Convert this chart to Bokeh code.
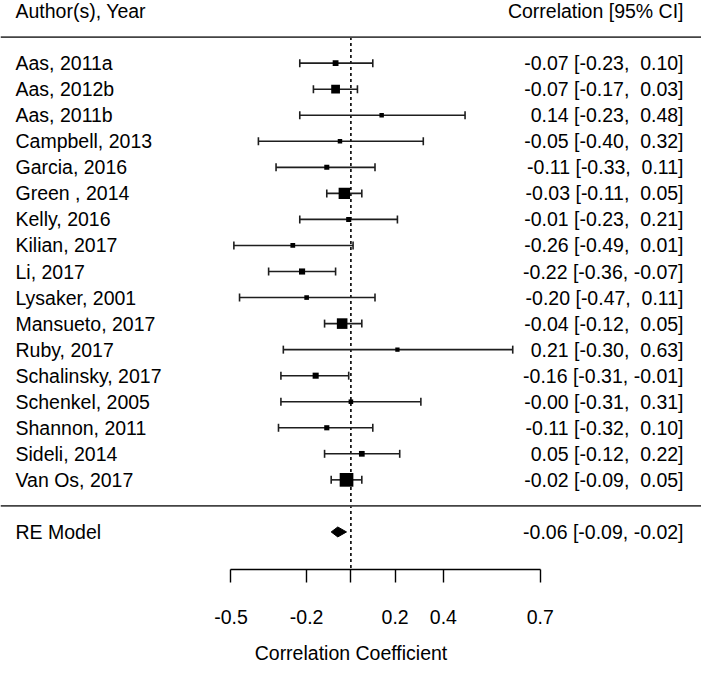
import numpy as np
from bokeh.plotting import figure
from bokeh.models import Span, FixedTicker, CustomJSTickFormatter, Range1d, ColumnDataSource
from bokeh.core.properties import value
from bokeh.embed import file_html
from bokeh.resources import INLINE

# ---------------- data ----------------
studies = ["Aas, 2011a", "Aas, 2012b", "Aas, 2011b", "Campbell, 2013", "Garcia, 2016",
           "Green , 2014", "Kelly, 2016", "Kilian, 2017", "Li, 2017", "Lysaker, 2001",
           "Mansueto, 2017", "Ruby, 2017", "Schalinsky, 2017", "Schenkel, 2005",
           "Shannon, 2011", "Sideli, 2014", "Van Os, 2017"]
estimates = [-0.07, -0.07, 0.14, -0.05, -0.11, -0.03, -0.01, -0.26, -0.22, -0.20,
             -0.04, 0.21, -0.16, -0.0, -0.11, 0.05, -0.02]
ci_lower = [-0.23, -0.17, -0.23, -0.40, -0.33, -0.11, -0.23, -0.49, -0.36, -0.47,
            -0.12, -0.30, -0.31, -0.31, -0.32, -0.12, -0.09]
ci_upper = [0.10, 0.03, 0.48, 0.32, 0.11, 0.05, 0.21, 0.01, -0.07, 0.11,
            0.05, 0.63, -0.01, 0.31, 0.10, 0.22, 0.05]
weights = [4.15, 11.44, 0.81, 0.81, 2.26, 18.07, 2.32, 1.56, 4.93, 1.21,
           15.98, 0.42, 4.81, 1.13, 2.49, 3.93, 23.67]   # % study weight

re_label = "RE Model"
re_estimate = -0.06
re_lower = -0.09
re_upper = -0.02

tick_values = [-0.5, -0.2, 0.0, 0.2, 0.4, 0.7]
tick_labels = ["-0.5", "-0.2", "", "0.2", "0.4", "0.7"]

header_left = "Author(s), Year"
header_right = "Correlation [95% CI]"
x_title = "Correlation Coefficient"

# ---------------- layout ----------------
FONT = "Liberation Sans"
FS = "19.5px"
W, H = 701, 666
FRAME_H = 570
k = len(studies)
rows = list(range(k, 0, -1))
y_bottom = -2.442
y_top = 19.406

z_est = np.arctanh(np.array(estimates))
z_lo = np.arctanh(np.array(ci_lower))
z_hi = np.arctanh(np.array(ci_upper))
w = np.array(weights)
sizes = 4.3 + 9.4 * (w - w.min()) / (w.max() - w.min())

NB = "\u00a0"

def num(v, width=5):
    s = f"{v:.2f}"
    return NB * max(0, width - len(s)) + s

def fmt(e, l, u):
    return f"{num(e)} [{num(l)},{NB}{num(u)}]"

right_text = [fmt(e, l, u) for e, l, u in zip(estimates, ci_lower, ci_upper)]

src = ColumnDataSource(dict(study=studies, row=rows, z=z_est, lo=z_lo, hi=z_hi,
                            size=sizes, rtext=right_text))

xr = Range1d(-1.6051, 1.6061)
yr = Range1d(y_bottom, y_top)

p = figure(width=W, height=H, x_range=xr, y_range=yr, output_backend="svg",
           toolbar_location=None, y_axis_location=None, x_axis_location="below",
           min_border_left=0, min_border_right=0, min_border_top=0,
           min_border_bottom=H - FRAME_H)
p.outline_line_color = None
p.grid.visible = False
p.background_fill_color = "white"
p.border_fill_color = "white"

# horizontal rules
for loc in (k + 1, 0):
    p.add_layout(Span(location=loc, dimension="width", line_color="#444444", line_width=1.8))

# dotted reference line at r = 0
p.segment(x0=[0], y0=[k + 1], x1=[0], y1=[y_bottom], line_color="black",
          line_width=1.6, line_dash="3 3")

# CI lines and caps
CI_COL = "#1e1e1e"
p.segment(x0="lo", y0="row", x1="hi", y1="row", source=src, line_color=CI_COL, line_width=1.6)
p.scatter(x="lo", y="row", source=src, marker="dash", angle=np.pi / 2, size=8,
          line_color=CI_COL, line_width=1.6)
p.scatter(x="hi", y="row", source=src, marker="dash", angle=np.pi / 2, size=8,
          line_color=CI_COL, line_width=1.6)
# weight squares
p.scatter(x="z", y="row", source=src, marker="square", size="size",
          fill_color="black", line_color="black", line_width=0)

# RE diamond
zr, zl, zu = np.arctanh(re_estimate), np.arctanh(re_lower), np.arctanh(re_upper)
hh = 0.19
p.patch(x=[zl, zr, zu, zr], y=[-1, -1 + hh, -1, -1 - hh], fill_color="black", line_color="black",
        line_width=1)

# text columns
common = dict(text_baseline="middle", text_font=value(FONT), text_font_size=FS, text_color="black")
LX, RX = 15, -18
p.text(x=xr.start, y="row", text="study", source=src, x_offset=LX, text_align="left", **common)
p.text(x=xr.end, y="row", text="rtext", source=src, x_offset=RX, text_align="right", **common)
p.text(x=[xr.start], y=[k + 2], text=[header_left], x_offset=LX, text_align="left", **common)
p.text(x=[xr.end], y=[k + 2], text=[header_right], x_offset=RX, text_align="right", **common)
p.text(x=[xr.start], y=[-1], text=[re_label], x_offset=LX, text_align="left", **common)
p.text(x=[xr.end], y=[-1], text=[fmt(re_estimate, re_lower, re_upper)], x_offset=RX,
       text_align="right", **common)

# x axis on the Fisher-z scale, labelled in r
tick_z = [float(np.arctanh(t)) for t in tick_values]
ax = p.xaxis[0]
ax.ticker = FixedTicker(ticks=tick_z, minor_ticks=[])
ax.formatter = CustomJSTickFormatter(args=dict(zs=tick_z, labels=tick_labels), code="""
    for (let i = 0; i < zs.length; i++) {
        if (Math.abs(zs[i] - tick) < 1e-6) return labels[i];
    }
    return "";
""")
ax.bounds = (tick_z[0], tick_z[-1])
ax.axis_line_color = "black"
ax.axis_line_width = 1.4
ax.major_tick_line_color = "black"
ax.major_tick_line_width = 1.4
ax.major_tick_out = 13
ax.major_tick_in = 0
ax.minor_tick_line_color = None
ax.major_label_standoff = 27
ax.major_label_text_font = FONT
ax.major_label_text_font_size = FS
ax.major_label_text_color = "black"
ax.axis_label = x_title
ax.axis_label_standoff = 15
ax.axis_label_text_font = FONT
ax.axis_label_text_font_size = FS
ax.axis_label_text_font_style = "normal"
ax.axis_label_text_color = "black"

open("out.html", "w").write(file_html(p, INLINE))
